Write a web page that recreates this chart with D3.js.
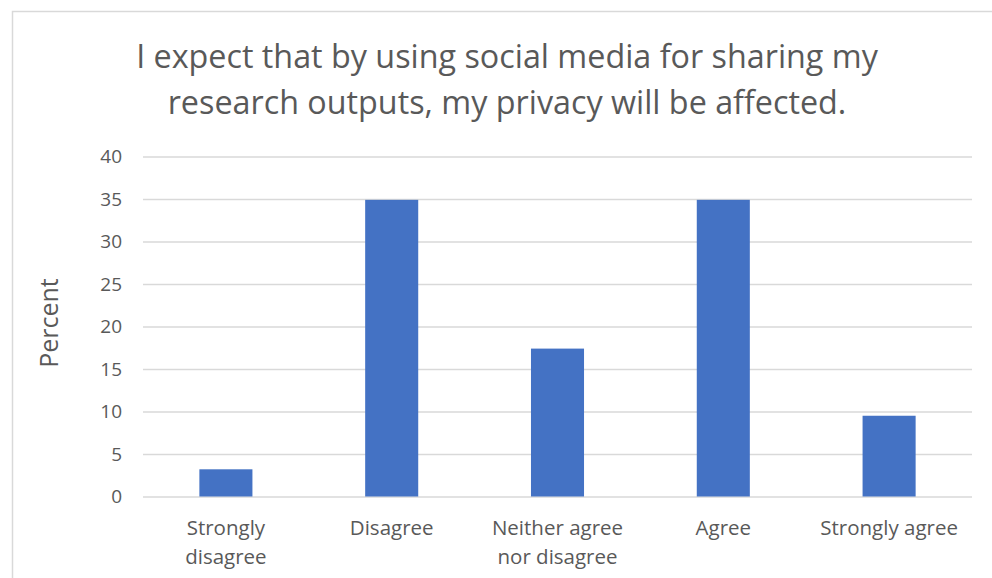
<!DOCTYPE html>
<html><head><meta charset="utf-8">
<script src="https://cdn.jsdelivr.net/npm/d3@7"></script>
<style>body{margin:0;background:#fff;} svg{display:block;}</style>
</head><body>
<svg id="c" width="992" height="578"></svg>
<script>
const categories = ["Strongly disagree", "Disagree", "Neither agree nor disagree", "Agree", "Strongly agree"];
const categoryLines = [["Strongly", "disagree"], ["Disagree"], ["Neither agree", "nor disagree"], ["Agree"], ["Strongly agree"]];
const values = [3.2, 34.9, 17.4, 34.9, 9.5];
const yTicks = [0, 5, 10, 15, 20, 25, 30, 35, 40];
const titleLines = ["I expect that by using social media for sharing my", "research outputs, my privacy will be affected."];
const yLabel = "Percent";

(function () {
const svg = d3.select("#c");
const font = "'Open Sans', sans-serif";
const textCol = "#595959";

// chart frame
svg.append("path").attr("d", "M12.5,578 L12.5,11.5 L992,11.5")
  .attr("fill", "none").attr("stroke", "#d9d9d9").attr("stroke-width", 1.5);

const pLeft = 143, pRight = 972, pTop = 156.5, pBottom = 496.5;
const x = d3.scaleBand().domain(categories).range([pLeft, pRight]).paddingInner(0.68).paddingOuter(0.34);
const y = d3.scaleLinear().domain([0, 40]).range([pBottom, pTop]);

// gridlines
const grid = svg.append("g").attr("transform", `translate(${pLeft},0)`)
  .call(d3.axisLeft(y).tickValues(yTicks).tickSize(-(pRight - pLeft)).tickFormat(""));
grid.select(".domain").remove();
grid.selectAll("line").attr("stroke", "#d9d9d9").attr("stroke-width", 1.5);

// y tick labels
const yax = svg.append("g").attr("transform", `translate(${pLeft - 21},0)`)
  .call(d3.axisLeft(y).tickValues(yTicks).tickSize(0).tickPadding(0));
yax.select(".domain").remove();
yax.selectAll("text").attr("font-family", font).attr("font-size", 19).attr("fill", textCol);

// bars
svg.append("g").selectAll("rect").data(values).join("rect")
  .attr("x", (d, i) => x(categories[i]))
  .attr("y", d => y(d))
  .attr("width", x.bandwidth())
  .attr("height", d => y(0) - y(d))
  .attr("fill", "#4472C4");

// x labels
const xl = svg.append("g");
categoryLines.forEach((lines, i) => {
  const cx = x(categories[i]) + x.bandwidth() / 2;
  const t = xl.append("text").attr("x", cx).attr("y", 535)
    .attr("text-anchor", "middle").attr("font-family", font).attr("font-size", 20.5).attr("fill", textCol);
  lines.forEach((l, j) => t.append("tspan").attr("x", cx).attr("dy", j === 0 ? 0 : 29).text(l));
});

// title
const tt = svg.append("text").attr("text-anchor", "middle").attr("font-family", font)
  .attr("font-size", 32.3).attr("fill", textCol);
titleLines.forEach((l, j) => tt.append("tspan").attr("x", 507).attr("y", 68 + j * 46).text(l));

// y axis title
svg.append("text").attr("transform", "translate(58,323) rotate(-90)")
  .attr("text-anchor", "middle").attr("font-family", font).attr("font-size", 25).attr("fill", textCol)
  .text(yLabel);
})();
</script>
</body></html>
